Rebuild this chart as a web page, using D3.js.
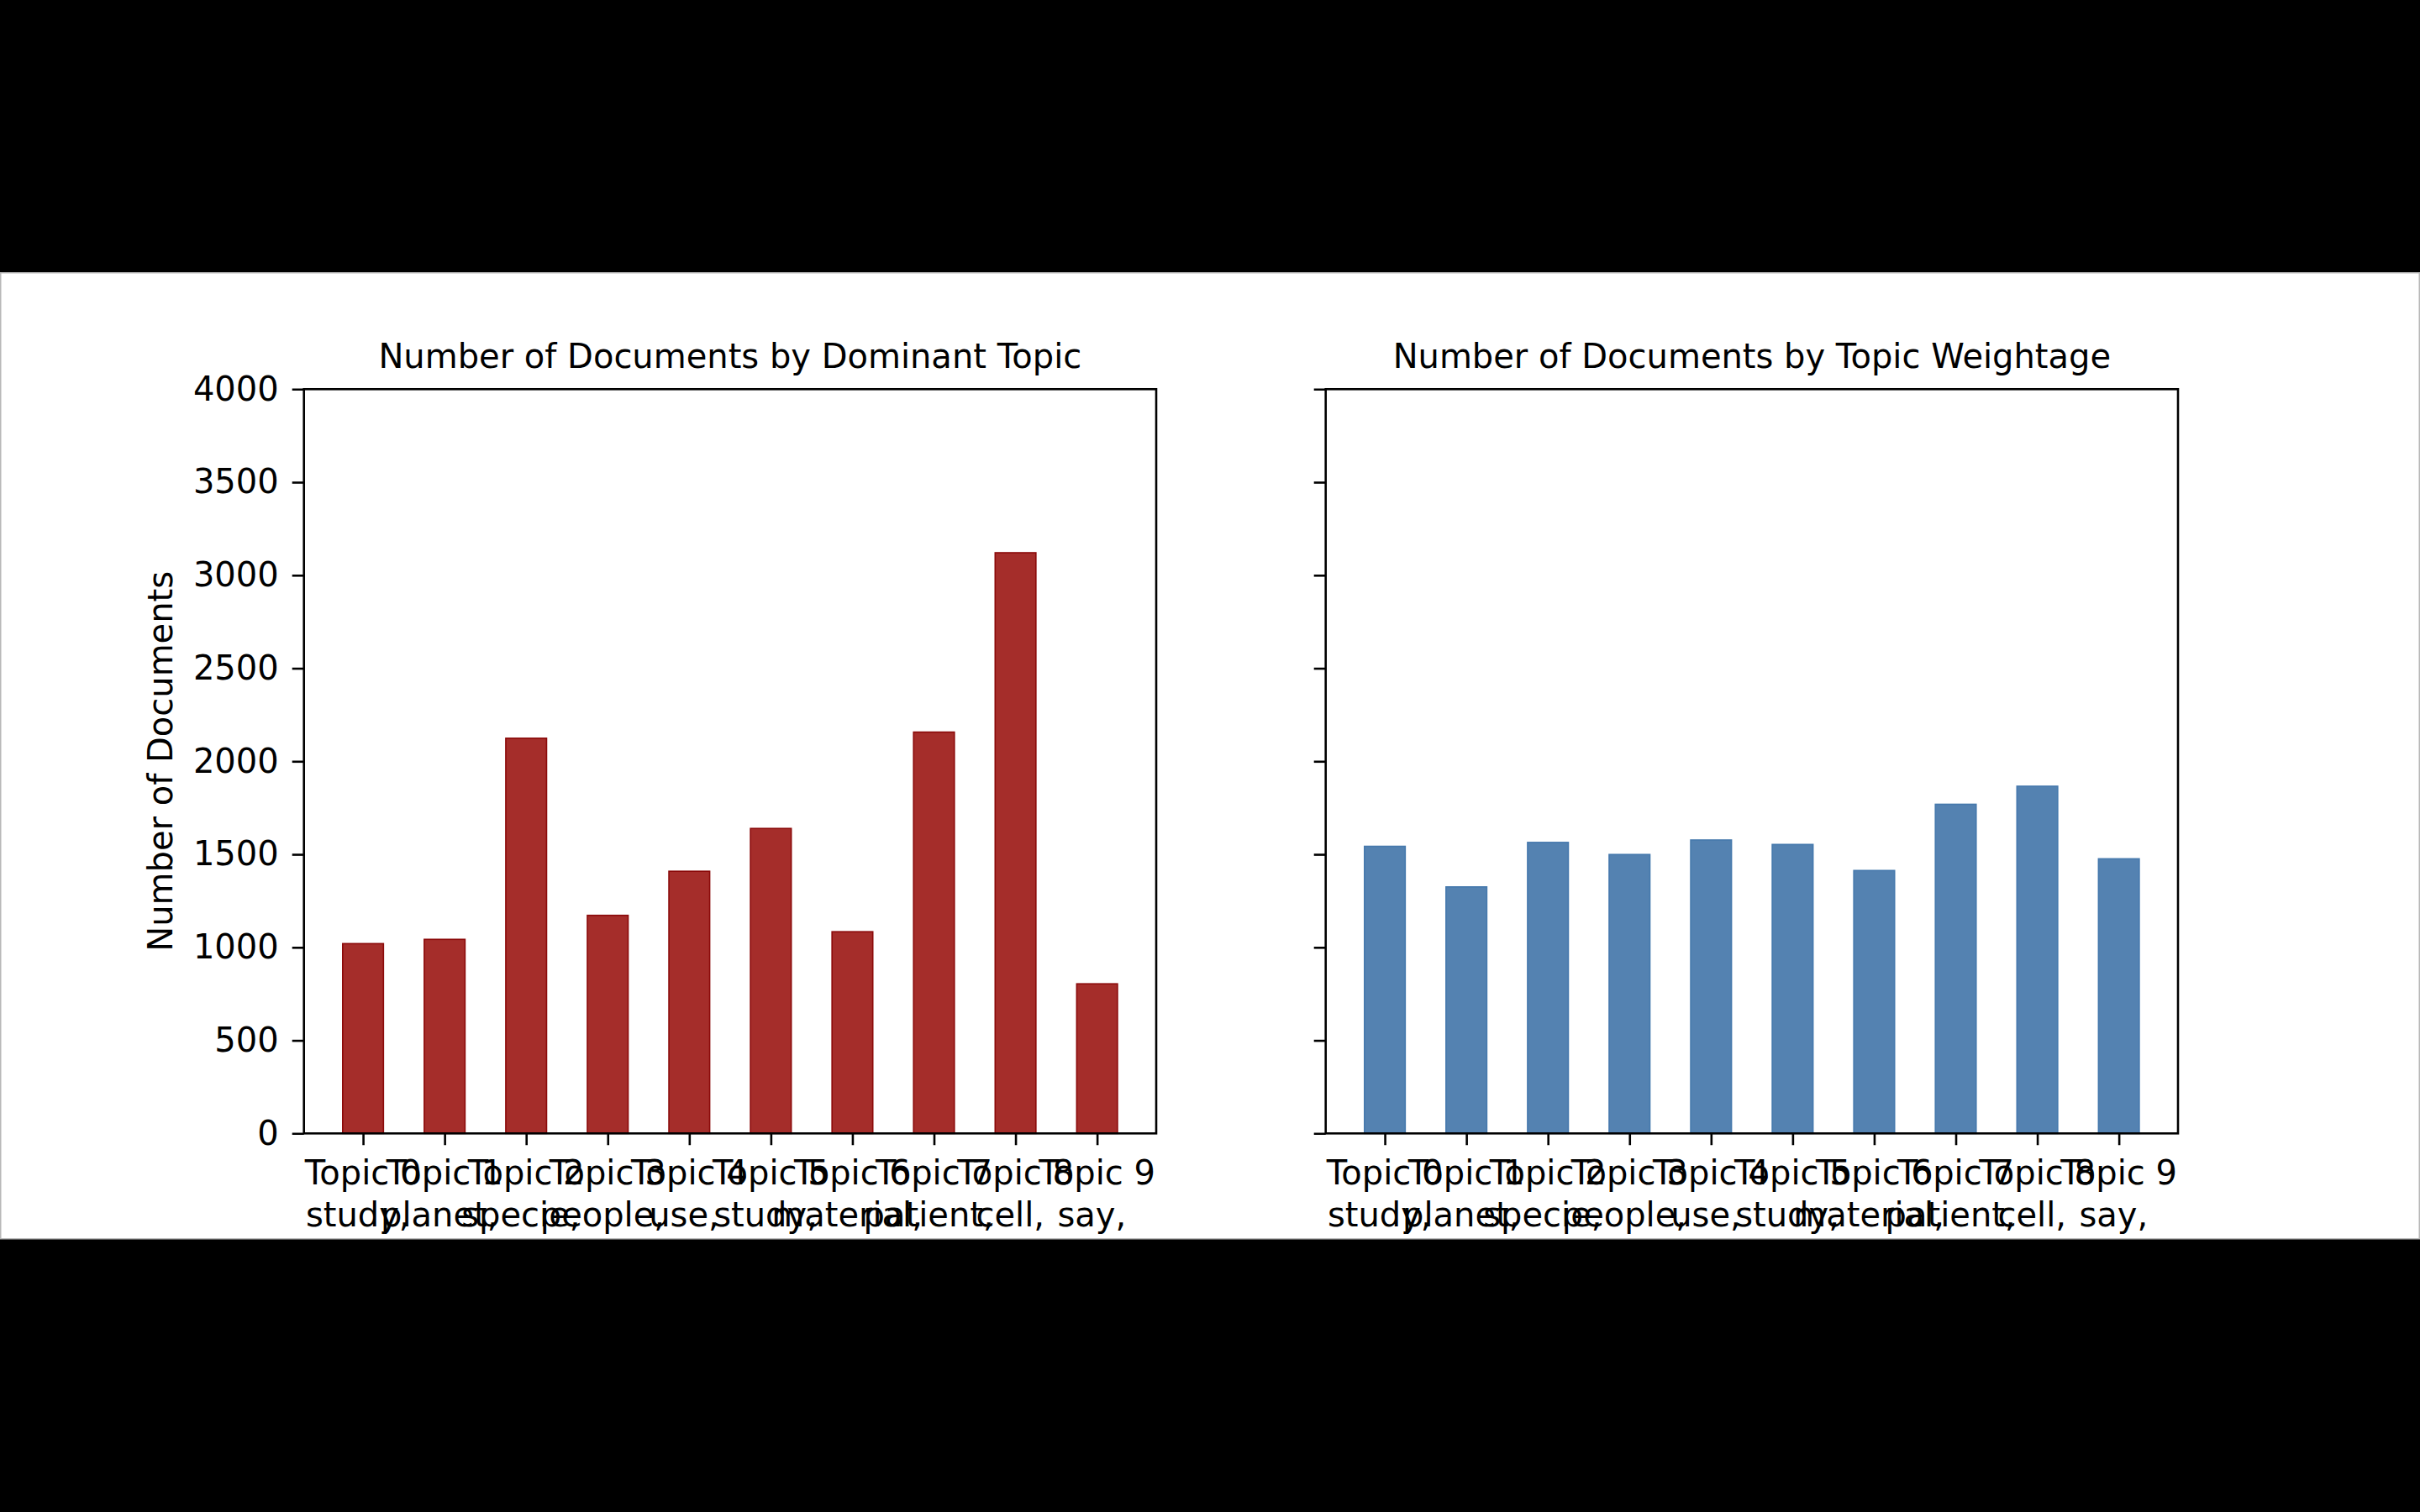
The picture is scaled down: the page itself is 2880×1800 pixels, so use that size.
<!DOCTYPE html>
<html>
<head>
<meta charset="utf-8">
<script src="https://cdn.jsdelivr.net/npm/d3@7"></script>
<style>
  html, body { margin: 0; padding: 0; background: #000; }
  svg { display: block; }
  text { font-family: "DejaVu Sans", sans-serif; fill: #000; white-space: pre; }
</style>
</head>
<body>
<svg id="chart" width="2880" height="1800"></svg>
<script>
// ---- data ----
const topicIds = [0, 1, 2, 3, 4, 5, 6, 7, 8, 9];
const topicLine1 = ["Topic 0", "Topic 1", "Topic 2", "Topic 3", "Topic 4", "Topic 5", "Topic 6", "Topic 7", "Topic 8", "Topic 9"];
const topicLine2 = ["study, ", "planet, ", "specie, ", "people, ", "use, ", "study, ", "material, ", "patient, ", "cell, ", "say, "];
const dominantCounts = [1020, 1043, 2124, 1172, 1409, 1639, 1084, 2157, 3121, 804];
const weightageCounts = [1543, 1325, 1564, 1499, 1577, 1553, 1413, 1769, 1866, 1476];
const yTicks = [0, 500, 1000, 1500, 2000, 2500, 3000, 3500, 4000];
const titles = ["Number of Documents by Dominant Topic", "Number of Documents by Topic Weightage"];
const yLabel = "Number of Documents";

// ---- layout ----
const svg = d3.select("#chart");
const figTop = 324, figBottom = 1475.5;
const axTop = 463.3, axBottom = 1349.3;
const panels = [
  { left: 361.7, right: 1376, data: dominantCounts, fill: "#a52d2a", stroke: "#8b0a0a", labels: true, title: titles[0] },
  { left: 1577.7, right: 2592, data: weightageCounts, fill: "#5482b1", stroke: "#4679ad", labels: false, title: titles[1] }
];

svg.append("defs").append("clipPath").attr("id", "figclip")
  .append("rect").attr("x", 0).attr("y", figTop).attr("width", 2880).attr("height", figBottom - figTop);

svg.append("rect")
  .attr("x", 0.75).attr("y", figTop + 0.75)
  .attr("width", 2878.5).attr("height", figBottom - figTop - 1.5)
  .attr("fill", "#fff").attr("stroke", "#b8b8b8").attr("stroke-width", 1.5);

const root = svg.append("g").attr("clip-path", "url(#figclip)");

const y = d3.scaleLinear().domain([0, 4000]).range([axBottom, axTop]);
const tickFont = 40;

panels.forEach(p => {
  const x = d3.scaleLinear().domain([-0.725, 9.725]).range([p.left, p.right]);
  const g = root.append("g");
  const barW = x(0.5) - x(0);

  // bars
  g.selectAll("rect.bar").data(p.data).enter().append("rect")
    .attr("class", "bar")
    .attr("x", (d, i) => x(topicIds[i]) - barW / 2)
    .attr("width", barW)
    .attr("y", d => y(d))
    .attr("height", d => y(0) - y(d))
    .attr("fill", p.fill)
    .attr("stroke", p.stroke)
    .attr("stroke-width", 1.6);

  // y axis
  const yAxis = d3.axisLeft(y).tickValues(yTicks).tickSize(14).tickPadding(16)
    .tickFormat(p.labels ? d3.format("d") : () => "");
  const ya = g.append("g").attr("transform", `translate(${p.left},0)`).call(yAxis);
  ya.select(".domain").remove();
  ya.selectAll("line").attr("stroke", "#000").attr("stroke-width", 2.6);
  ya.selectAll("text").attr("font-size", tickFont).attr("font-family", "DejaVu Sans").attr("fill", "#000");

  // x axis
  const xAxis = d3.axisBottom(x).tickValues(topicIds).tickSize(14).tickFormat(() => "");
  const xa = g.append("g").attr("transform", `translate(0,${axBottom})`).call(xAxis);
  xa.select(".domain").remove();
  xa.selectAll("line").attr("stroke", "#000").attr("stroke-width", 2.6);

  // two-line tick labels
  const lab = g.selectAll("text.xlab").data(topicIds).enter().append("text")
    .attr("class", "xlab")
    .attr("text-anchor", "middle")
    .attr("xml:space", "preserve")
    .attr("font-size", tickFont);
  lab.append("tspan").attr("x", d => x(d)).attr("y", axBottom + 60.5).text((d, i) => topicLine1[i]);
  lab.append("tspan").attr("x", d => x(d)).attr("y", axBottom + 110.5).text((d, i) => topicLine2[i]);

  // frame
  g.append("rect")
    .attr("x", p.left).attr("y", axTop)
    .attr("width", p.right - p.left).attr("height", axBottom - axTop)
    .attr("fill", "none").attr("stroke", "#000").attr("stroke-width", 2.6);

  // title
  g.append("text")
    .attr("x", (p.left + p.right) / 2).attr("y", 438)
    .attr("text-anchor", "middle").attr("font-size", 40)
    .text(p.title);

  if (p.labels) {
    g.append("text")
      .attr("transform", `translate(205,${(axTop + axBottom) / 2}) rotate(-90)`)
      .attr("text-anchor", "middle").attr("font-size", 40)
      .text(yLabel);
  }
});
</script>
</body>
</html>
